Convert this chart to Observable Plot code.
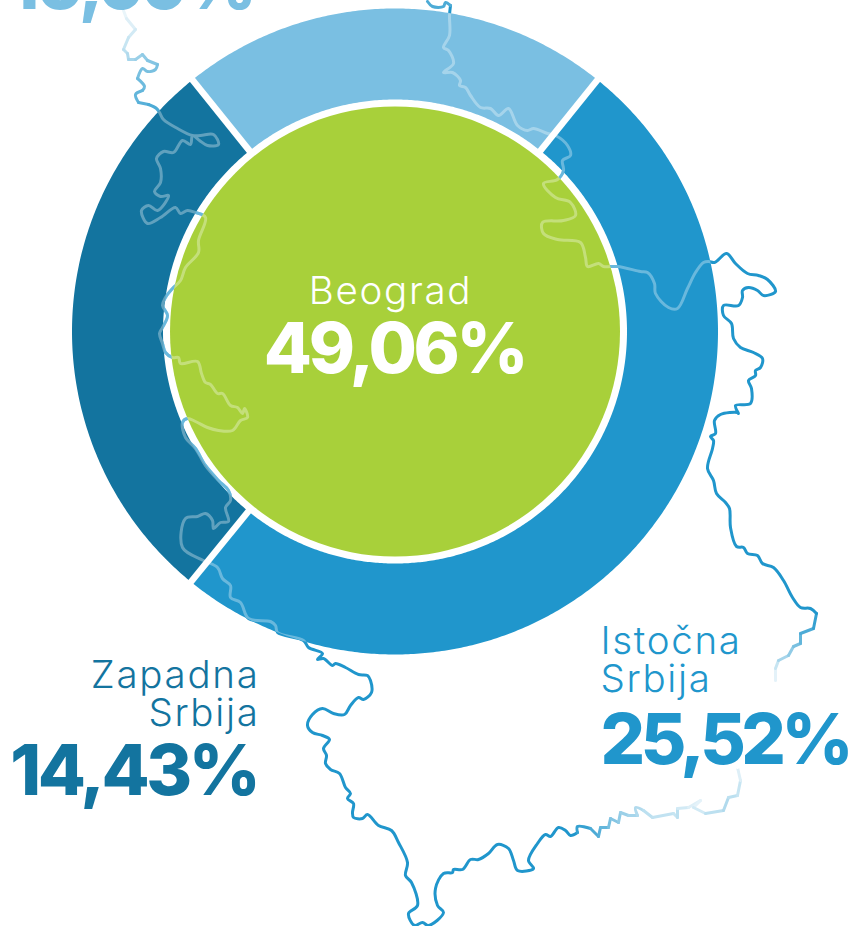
<!DOCTYPE html>
<html><head><meta charset="utf-8">
<script src="https://cdn.jsdelivr.net/npm/d3@7"></script>
<script src="https://cdn.jsdelivr.net/npm/@observablehq/plot@0.6"></script>
<style>
html,body{margin:0;padding:0;background:#fff;overflow:hidden}
svg{display:block}
.num text{letter-spacing:-3.4px}
.numt text{letter-spacing:-4.5px}
.lab text{letter-spacing:1.7px}
</style></head><body><div id="chart"></div>
<script>
const ringRegions = ["Vojvodina", "Istočna Srbija", "Zapadna Srbija"];
const ringShares = [10.99, 25.52, 14.43];
const ringColors = ["#7abfe2", "#2096cc", "#13749f"];
const centerRegion = "Beograd";
const centerShare = "49,06%";
const shareLabels = ["10,99%", "25,52%", "14,43%"];

// Traced outline of Serbia, in map units: [x, y, visibility]
const outline = [
[123,10,.1],[126,18,.15],[135,29,.2],[128,37,.25],[123,49,.3],[127,53,.35],[128,59,.4],[135,59,.45],[142,54,.5],[147,60,.55],[157,64,.6],[155,69,.6],[147,71,.6],[142,68,.6],[137,78,.65],[144,86,.65],[142,90,.7],[135,94,.7],[138,102,.75],[148,104,.8],[156,108,.8],
[159,112],[163,119],[177,128],[192,135],[200,135],[213,134],[218,144],[207,145],[199,140],[192,135],[190,144],[182,140],[173,152],[163,151],[156,158],[160,168],[160,182],[154,191],[160,196],[168,195],[157,210],[148,205],[141,210],[147,223],[160,217],[175,207],[180,213],[187,210],[195,212],[205,217],
[198,240],[198,252],[185,267],[180,280],[172,288],[165,297],[162,305],[167,315],[162,327],[159,333],[162,343],[165,352],[172,357],[178,357],[180,363],[197,361],[201,373],[205,382],[210,384],[217,393],[222,393],[230,405],[237,407],[242,413],[244,408],[247,417],[240,420],[232,430],[218,430],[207,427],[195,421],[187,418],[182,422],[185,437],[195,448],[205,465],[218,480],[228,490],[230,500],[225,507],[228,521],[220,522],[213,528],[212,520],[205,513],[197,516],[185,518],[182,547],[203,560],[217,567],[222,578],[230,585],[230,597],[240,602],[248,618],[270,621],[275,625],[277,632],[303,640],
[308,647],[322,653],[317,659],[323,658],[332,665],[335,663],[345,667],[358,674],[367,675],[370,680],[371,692],[363,699],[358,697],[350,705],[344,714],[333,713],[322,708],[312,714],[307,725],[312,732],[322,735],[329,739],[323,748],[326,755],[325,763],[330,769],[339,773],[345,787],[350,793],[347,798],[353,803],[352,812],[353,817],[362,818],[367,814],[378,825],[391,830],[398,842],[407,862],[405,875],[411,882],[417,905],[408,913],[414,925],[422,922],[428,925],[443,912],[437,905],[435,888],[443,873],[452,872],[453,869],[462,869],[470,859],[478,859],[488,853],[497,844],[508,848],[513,860],[517,870],[533,868],[528,860],[537,843],[545,834],[550,836],[558,827],[565,830],[570,835],[577,832,.9],[577,826,.9],[590,828,.8],[598,836,.75],[600,827,.7],[608,827,.6],[610,818,.55],[618,822,.5],[620,812,.45],[628,815,.4],[637,815,.35],[635,807,.35],[643,810,.3],[652,817,.28],[673,813,.25],[677,817,.3],[677,808,.2],[688,807,.15],[700,800,.12],[693,807,.2],[705,813,.3],[723,810,.35],[728,797,.3],[737,795,.25],[740,780,.15],[737,767,0],
[758,682,0],[775,680,.12],[775,668,.25],[778,660,.4],[788,655,.5],[793,646,.6],[800,643,.7],[800,633,.8],[813,628,.9],[816,613],[810,608],[800,607],[792,597],[783,580],[773,567],[762,563],[757,555],[747,553],[743,547],[736,546],[730,527],[729,508],[725,502],[716,493],[713,480],[707,468],[712,448],[713,440],[710,436],[715,433],[714,420],[720,414],[737,412],[738,413],[735,405],[750,403],[751,388],[748,380],[755,375],[755,370],[760,367],[762,358],[753,352],[740,347],[733,338],[731,323],[723,315],[723,305],[738,305],[742,297],[742,290],[748,287],[757,290],[763,295],[775,291],[767,279],[758,275],[747,273],[735,263],[726,253],[714,262],
[708,261],[703,262],[695,272],[687,288],[677,308],[668,307],[655,293],[654,283],[647,272],[640,271],[617,266],[603,266],[598,263],[587,266],[585,257],[580,242],[557,239],[543,233],[542,222],[563,220],[575,215],[570,202],[555,197],[543,183],[557,179],[563,170],[562,160],[570,155],[567,145],[555,135],[547,133],[533,128],[527,130],[517,125],[508,108],[498,115],[490,108],[480,107],[470,95],[465,87],[459,85],[460,80],[452,72],[443,72],[453,63],[448,50],[443,47],[449,35],[449,15],[450,5,.8],[445,2,.8],[443,6,.8],[432,6,.8],[427,1,.8]
];

const cx = 394.5, cy = 331, rMid = 277.5, bandWidth = 91, rGreen = 225, startAngle = -38.84;
const blue = "#2096cc";

// Ring arcs computed from the shares
const total = d3.sum(ringShares);
const ringPoints = [], gaps = [];
const polar = (deg, r) => [cx + r * Math.sin(deg * Math.PI / 180), cy - r * Math.cos(deg * Math.PI / 180)];
let a0 = startAngle;
ringShares.forEach((s, i) => {
  const a1 = a0 + s / total * 360;
  const n = Math.ceil((a1 - a0) * 2);
  for (let k = 0; k <= n; k++) {
    const [x, y] = polar(a0 + (a1 - a0) * k / n, rMid);
    ringPoints.push({x, y, region: ringRegions[i], color: ringColors[i]});
  }
  const [x1, y1] = polar(a0, rMid - bandWidth / 2 - 2);
  const [x2, y2] = polar(a0, rMid + bandWidth / 2 + 3);
  gaps.push({x1, y1, x2, y2});
  a0 = a1;
});

const pts = outline.map(([x, y, v = 1]) => ({x, y, c: d3.interpolateRgb("#ffffff", blue)(v)}));
const numFont = {fontFamily: "Inter, sans-serif", fontWeight: 850, fontSize: 70, className: "num"};
const labFont = {fontFamily: "Inter, sans-serif", fontWeight: 300, fontSize: 38.5, className: "lab"};
const one = (text, x, y, fill, anchor, opts) => Plot.text([text], {x: () => x, y: () => y, text: d => d, fill, textAnchor: anchor, lineAnchor: "bottom", ...opts});

const svg = Plot.plot({
  width: 855, height: 926, margin: 0,
  x: {type: "linear", domain: [0, 855], range: [0, 855], axis: null},
  y: {type: "linear", domain: [0, 926], range: [0, 926], axis: null},
  color: {type: "identity"},
  marks: [
    Plot.line(pts, {x: "x", y: "y", z: null, curve: "catmull-rom", stroke: "c", strokeWidth: 3, strokeLinejoin: "round", strokeLinecap: "round"}),
    Plot.line(ringPoints, {x: "x", y: "y", z: "region", stroke: "color", strokeWidth: bandWidth, strokeLinecap: "butt", strokeLinejoin: "round"}),
    Plot.link(gaps, {x1: "x1", y1: "y1", x2: "x2", y2: "y2", stroke: "#fff", strokeWidth: 6.5}),
    Plot.dot([0], {x: () => cx, y: () => cy, r: rGreen, fill: "#a8d03a"}),
    Plot.line(pts, {x: "x", y: "y", z: null, curve: "catmull-rom", stroke: "#fff", strokeOpacity: 0.33, strokeWidth: 3, strokeLinejoin: "round", strokeLinecap: "round", className: "overlay"}),
    one(centerRegion, 390, 303, "#fff", "middle", labFont),
    one(centerShare, 394, 372, "#fff", "middle", numFont),
    one(shareLabels[0], 253, 8, ringColors[0], "end", numFont),
    one("Zapadna", 259, 687, ringColors[2], "end", labFont),
    one("Srbija", 259, 725, ringColors[2], "end", labFont),
    one(shareLabels[2], 257, 794, ringColors[2], "end", numFont),
    one("Istočna", 600, 653, ringColors[1], "start", labFont),
    one("Srbija", 600, 691, ringColors[1], "start", labFont),
    one(shareLabels[1], 600, 763, ringColors[1], "start", {...numFont, className: "numt"})
  ]
});
const root = d3.select(svg);
root.append("defs").append("clipPath").attr("id", "disc").append("circle").attr("cx", cx).attr("cy", cy).attr("r", rMid + bandWidth / 2);
root.selectAll(".overlay").attr("clip-path", "url(#disc)");
document.getElementById("chart").appendChild(svg);
</script></body></html>
